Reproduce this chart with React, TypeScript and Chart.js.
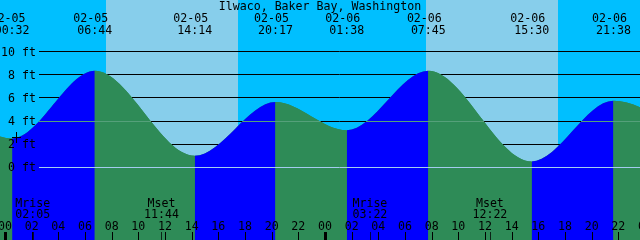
import React, { useEffect, useRef } from 'react';
import { Chart, registerables } from 'chart.js';

Chart.register(...registerables);

// ---------- data ----------
const STATION = 'Ilwaco, Baker Bay, Washington';
const BASE_DAY = 5; // 02-05 00:00 is hour 0

const tideDates = ['02-04', '02-05', '02-05', '02-05', '02-05', '02-06', '02-06', '02-06', '02-06', '02-07'];
const tideTimes = ['19:20', '00:32', '06:44', '14:14', '20:17', '01:38', '07:45', '15:30', '21:38', '03:10'];
const tideHeights = [5.5, 2.5, 8.35, 1.0, 5.65, 3.2, 8.35, 0.5, 5.75, 3.1];

const sunDates = ['02-05', '02-06'];
const sunriseTimes = ['07:34', '07:34'];
const sunsetTimes = ['17:28', '17:28'];

const moonLabels = ['Mrise', 'Mset', 'Mrise', 'Mset'];
const moonDates = ['02-05', '02-05', '02-06', '02-06'];
const moonTimes = ['02:05', '11:44', '03:22', '12:22'];

const heightTicks = [0, 2, 4, 6, 8, 10];
const hourTickValues = [0, 2, 4, 6, 8, 10, 12, 14, 16, 18, 20, 22, 24, 26, 28, 30, 32, 34, 36, 38, 40, 42, 44, 46, 48];
const hourTickLabels = ['00', '02', '04', '06', '08', '10', '12', '14', '16', '18', '20', '22', '00', '02', '04', '06', '08', '10', '12', '14', '16', '18', '20', '22', '00'];

const markDate = '02-05';
const markTime = '00:50';
const markHeight = 2.65;

// ---------- style ----------
const NIGHT = '#00bfff';
const DAY = '#87ceeb';
const RISING = '#0000ff';
const FALLING = '#2e8b57';
const MSL_COLOR = '#55a07a';
const DATUM_COLOR = '#a4ccf0';
const FONT = '11.6px "DejaVu Sans Mono", "Liberation Mono", monospace';

const toHours = (date: string, time: string) => {
  const day = parseInt(date.slice(3), 10) - BASE_DAY;
  const [h, m] = time.split(':').map((v) => parseInt(v, 10));
  return day * 24 + h + m / 60;
};

const tidePoints = tideTimes.map((t, i) => ({ x: toHours(tideDates[i], t), y: tideHeights[i] }));

const decorPlugin = {
  id: 'tideDecor',
  afterDatasetsDraw(chart: any) {
    const { ctx, scales } = chart;
    const xs = scales.x;
    const ys = scales.y;
    const W = chart.width;
    const H = chart.height;
    const lineLeft = 39;
    const py = (v: number) => Math.floor(ys.getPixelForValue(v)) + 0.5;

    ctx.save();
    // lines drawn over the water only
    ctx.globalCompositeOperation = 'source-atop';
    ctx.lineWidth = 1;
    ctx.strokeStyle = MSL_COLOR;
    ctx.beginPath();
    ctx.moveTo(lineLeft, py(4));
    ctx.lineTo(W, py(4));
    ctx.stroke();
    ctx.strokeStyle = DATUM_COLOR;
    ctx.beginPath();
    ctx.moveTo(lineLeft, py(0));
    ctx.lineTo(W, py(0));
    ctx.stroke();

    // grid lines behind the water
    ctx.globalCompositeOperation = 'destination-over';
    ctx.strokeStyle = '#000';
    heightTicks.forEach((v) => {
      ctx.beginPath();
      ctx.moveTo(lineLeft, py(v));
      ctx.lineTo(W, py(v));
      ctx.stroke();
    });

    // daylight bands, then night behind everything
    ctx.fillStyle = DAY;
    sunDates.forEach((d, i) => {
      const a = xs.getPixelForValue(toHours(d, sunriseTimes[i]));
      const b = xs.getPixelForValue(toHours(d, sunsetTimes[i]));
      ctx.fillRect(Math.round(a), 0, Math.round(b) - Math.round(a), H);
    });
    ctx.fillStyle = NIGHT;
    ctx.fillRect(0, 0, W, H);

    // text and marks on top
    ctx.globalCompositeOperation = 'source-over';
    ctx.fillStyle = '#000';
    ctx.font = FONT;
    ctx.textBaseline = 'alphabetic';

    ctx.textAlign = 'center';
    ctx.fillText(STATION, W / 2, 10);

    tidePoints.forEach((p, i) => {
      const x = xs.getPixelForValue(p.x);
      if (x < -30 || x > W + 30) return;
      ctx.fillText(tideDates[i], x - 4, 22);
      ctx.fillText(tideTimes[i], x, 34);
    });

    ctx.textAlign = 'right';
    heightTicks.forEach((v) => {
      ctx.fillText(`${v} ft`, 36, ys.getPixelForValue(v) + 4);
    });

    ctx.textAlign = 'center';
    moonTimes.forEach((t, i) => {
      const x = xs.getPixelForValue(toHours(moonDates[i], t));
      ctx.fillText(moonLabels[i], x, 207);
      ctx.fillText(t, x, 218);
    });

    hourTickValues.forEach((h, i) => {
      const x = xs.getPixelForValue(h);
      ctx.fillText(hourTickLabels[i], x, 230);
      if (h % 24 === 0) {
        ctx.fillRect(Math.round(x) - 1, 232, 3, H - 232);
      } else {
        ctx.fillRect(Math.round(x), 232, 1, H - 232);
      }
    });

    ctx.fillStyle = 'rgba(0,0,0,0.75)';
    moonTimes.forEach((t, i) => {
      const x = xs.getPixelForValue(toHours(moonDates[i], t));
      ctx.fillRect(Math.round(x), 232, 1, H - 232);
    });

    // "+" mark
    const mx = Math.round(xs.getPixelForValue(toHours(markDate, markTime)));
    const my = Math.round(ys.getPixelForValue(markHeight));
    ctx.fillStyle = '#000';
    ctx.fillRect(mx - 4, my, 9, 1);
    ctx.fillRect(mx, my - 5, 1, 11);

    ctx.restore();
  },
};

export default function App() {
  const ref = useRef<HTMLCanvasElement>(null);

  useEffect(() => {
    document.body.style.margin = '0';
    const canvas = ref.current;
    if (!canvas) return;
    const chart = new Chart(canvas, {
      type: 'line',
      data: {
        datasets: [
          {
            data: tidePoints,
            parsing: { xAxisKey: 'x', yAxisKey: 'y' },
            borderWidth: 0,
            borderColor: 'rgba(0,0,0,0)',
            pointRadius: 0,
            fill: 'start',
            backgroundColor: RISING,
            cubicInterpolationMode: 'monotone',
            order: 0,
            segment: {
              backgroundColor: (c: any) => (c.p1.parsed.y >= c.p0.parsed.y ? RISING : FALLING),
            },
          } as any,
          {
            // backing fill so that segment seams don't show the sky
            data: tidePoints,
            parsing: { xAxisKey: 'x', yAxisKey: 'y' },
            borderWidth: 0,
            borderColor: 'rgba(0,0,0,0)',
            pointRadius: 0,
            fill: 'start',
            backgroundColor: FALLING,
            cubicInterpolationMode: 'monotone',
            order: 1,
          } as any,
        ],
      },
      options: {
        responsive: false,
        animation: false,
        events: [],
        layout: { padding: 0 },
        scales: {
          x: { type: 'linear', min: -0.375, max: 47.625, display: false },
          y: { type: 'linear', min: -6.29, max: 14.47, display: false },
        },
        plugins: {
          legend: { display: false },
          tooltip: { enabled: false },
          title: { display: false },
        },
      },
      plugins: [decorPlugin],
    });
    return () => chart.destroy();
  }, []);

  return (
    <div style={{ width: 640, height: 240 }}>
      <canvas ref={ref} width={640} height={240} style={{ display: 'block' }} />
    </div>
  );
}
